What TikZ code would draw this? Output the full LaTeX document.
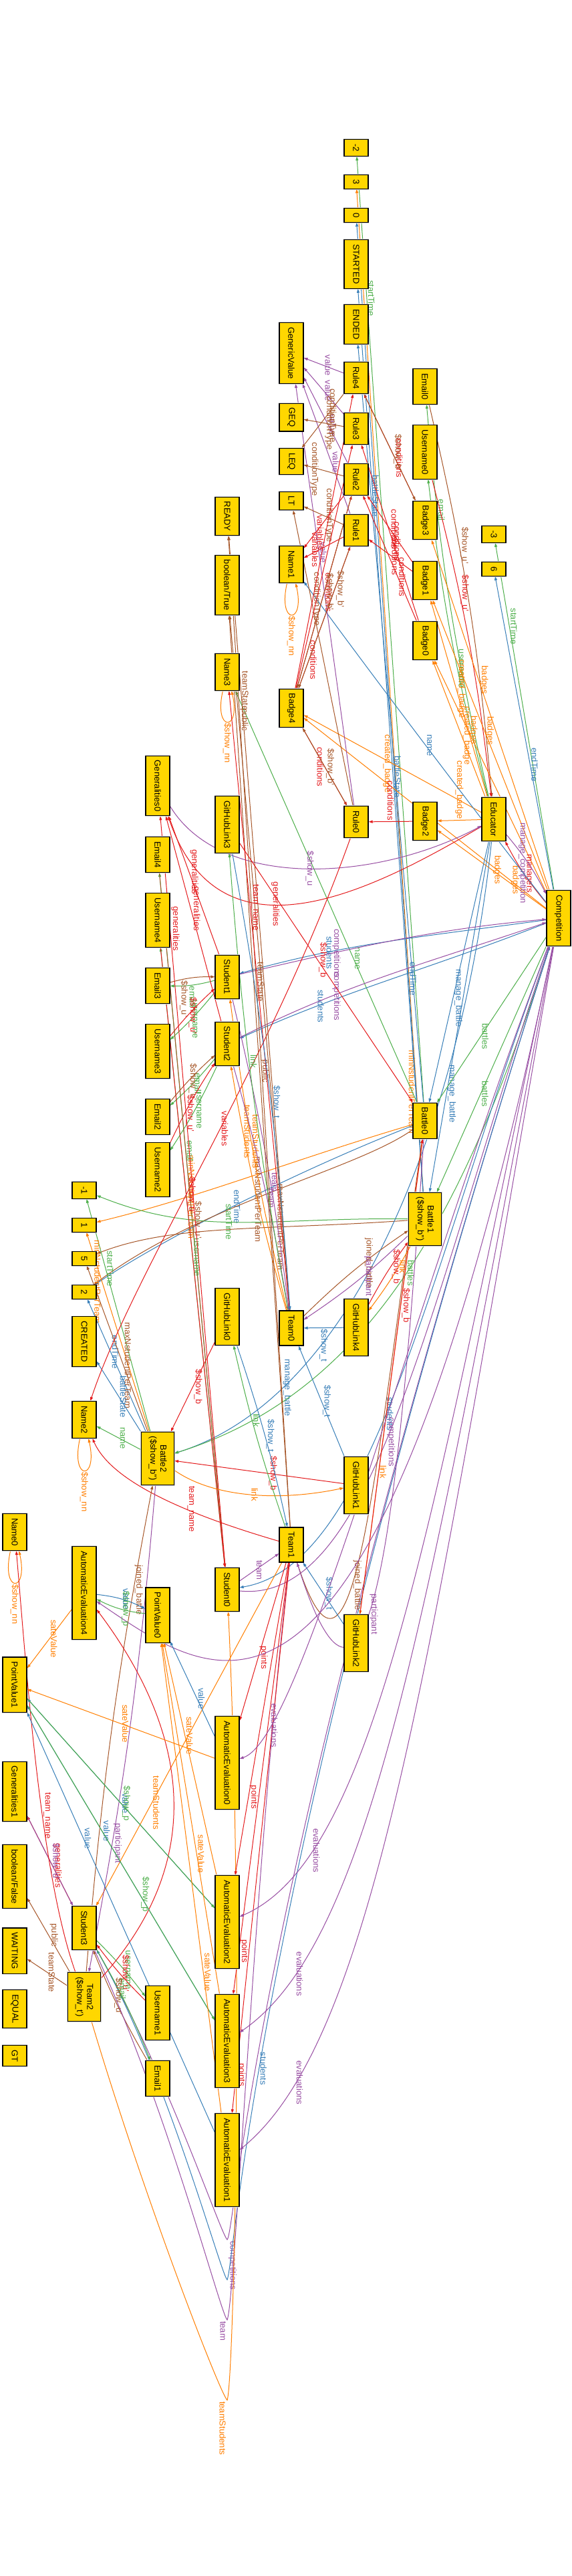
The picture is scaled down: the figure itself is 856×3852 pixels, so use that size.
\documentclass[tikz,border=0pt]{standalone}
\usepackage{fontspec}
\setmainfont{Liberation Sans}
\usetikzlibrary{arrows.meta,backgrounds}
\definecolor{gold}{HTML}{FFD700}
\definecolor{cred}{HTML}{E41A1C}
\definecolor{cblue}{HTML}{377EB8}
\definecolor{cgreen}{HTML}{4DAF4A}
\definecolor{cpurple}{HTML}{984EA3}
\definecolor{corange}{HTML}{FF7F00}
\definecolor{cbrown}{HTML}{A65628}
\begin{document}
\begin{tikzpicture}[x=1pt,y=-1pt]
    \tikzstyle{obj}=[draw=black, line width=1.1pt, fill=gold, rotate=-90, font=\fontsize{13}{15}\selectfont, minimum height=36pt, inner xsep=6.5pt, inner ysep=0pt, preaction={draw=black!18, line width=2.8pt}]
    \tikzstyle{obj2}=[obj, align=center, minimum height=49pt]
    \tikzstyle{rel}=[line width=1pt, -{Triangle[length=6pt,width=4pt]}]
    \tikzstyle{redge}=[rel, cred]
    \tikzstyle{bedge}=[rel, cblue]
    \tikzstyle{gedge}=[rel, cgreen]
    \tikzstyle{pedge}=[rel, cpurple]
    \tikzstyle{oedge}=[rel, corange]
    \tikzstyle{nedge}=[rel, cbrown]
    \tikzstyle{lbl}=[rotate=-90, anchor=south, inner sep=1.5pt, font=\fontsize{13}{15}\selectfont]
    \tikzstyle{lbll}=[lbl, anchor=north]
    \tikzstyle{lblu}=[lbl, anchor=east]
    \tikzstyle{lbld}=[lbl, anchor=west]
    \useasboundingbox (0,0) rectangle (856,3852);

    \node[obj] (neg2) at (533,221) {-2};
    \node[obj] (three) at (533,272) {3};
    \node[obj] (zero) at (533,322) {0};
    \node[obj] (started) at (533,395) {STARTED};
    \node[obj] (ended) at (533,485) {ENDED};
    \node[obj] (genval) at (436,528) {GenericValue};
    \node[obj] (rule4) at (533,565) {Rule4};
    \node[obj] (rule3) at (533,641) {Rule3};
    \node[obj] (rule2) at (533,717) {Rule2};
    \node[obj] (rule1) at (533,793) {Rule1};
    \node[obj] (geq) at (436,624) {GEQ};
    \node[obj] (leq) at (436,690) {LEQ};
    \node[obj] (lt) at (436,749) {LT};
    \node[obj] (email0) at (636,578) {Email0};
    \node[obj] (uname0) at (636,676) {Username0};
    \node[obj] (badge3) at (636,778) {Badge3};
    \node[obj] (badge1) at (636,868) {Badge1};
    \node[obj] (badge0) at (636,958) {Badge0};
    \node[obj] (neg3) at (739,799) {-3};
    \node[obj] (six) at (739,851) {6};
    \node[obj] (ready) at (340,772) {READY};
    \node[obj] (booltrue) at (340,875) {boolean/True};
    \node[obj] (name3) at (340,1005) {Name3};
    \node[obj] (name1) at (436,844) {Name1};
    \node[obj] (badge4) at (436,1059) {Badge4};
    \node[obj] (gen0) at (236,1175) {Generalities0};
    \node[obj] (gh3) at (340,1233) {GitHubLink3};
    \node[obj] (email4) at (236,1278) {Email4};
    \node[obj] (uname4) at (236,1376) {Username4};
    \node[obj] (rule0) at (533,1229) {Rule0};
    \node[obj] (badge2) at (636,1228) {Badge2};
    \node[obj] (educator) at (739,1225) {Educator};
    \node[obj] (comp) at (836,1373) {Competition};
    \node[obj] (student1) at (340,1461) {Student1};
    \node[obj] (email3) at (236,1474) {Email3};
    \node[obj] (uname3) at (236,1572) {Username3};
    \node[obj] (student2) at (340,1561) {Student2};
    \node[obj] (email2) at (236,1670) {Email2};
    \node[obj] (uname2) at (236,1749) {Username2};
    \node[obj] (battle0) at (636,1676) {Battle0};
    \node[obj] (neg1) at (126,1780) {-1};
    \node[obj] (one) at (126,1832) {1};
    \node[obj] (five) at (126,1882) {5};
    \node[obj] (two) at (126,1932) {2};
    \node[obj] (created) at (126,2006) {CREATED};
    \node[obj2] (battle1) at (636,1823) {Battle1\\(\$show\_b'{}')};
    \node[obj] (gh0) at (340,1969) {GitHubLink0};
    \node[obj] (team0) at (436,1986) {Team0};
    \node[obj] (gh4) at (533,1985) {GitHubLink4};
    \node[obj] (name2) at (126,2123) {Name2};
    \node[obj2] (battle2) at (236,2181) {Battle2\\(\$show\_b'{}')};
    \node[obj] (gh1) at (533,2221) {GitHubLink1};
    \node[obj] (name0) at (22,2291) {Name0};
    \node[obj] (ae4) at (126,2382) {AutomaticEvaluation4};
    \node[obj] (team1) at (436,2310) {Team1};
    \node[obj] (student0) at (340,2377) {Student0};
    \node[obj] (pv0) at (236,2415) {PointValue0};
    \node[obj] (gh2) at (533,2457) {GitHubLink2};
    \node[obj] (pv1) at (22,2519) {PointValue1};
    \node[obj] (ae0) at (340,2636) {AutomaticEvaluation0};
    \node[obj] (gen1) at (22,2679) {Generalities1};
    \node[obj] (boolfalse) at (22,2806) {boolean/False};
    \node[obj] (waiting) at (22,2917) {WAITING};
    \node[obj] (student3) at (126,2883) {Student3};
    \node[obj] (ae2) at (340,2874) {AutomaticEvaluation2};
    \node[obj2] (team2) at (126,2986) {Team2\\(\$show\_t')};
    \node[obj] (uname1) at (236,3010) {Username1};
    \node[obj] (equal) at (22,3004) {EQUAL};
    \node[obj] (gt) at (22,3074) {GT};
    \node[obj] (email1) at (236,3108) {Email1};
    \node[obj] (ae3) at (340,3052) {AutomaticEvaluation3};
    \node[obj] (ae1) at (340,3230) {AutomaticEvaluation1};

    \coordinate (loopC) at (340,3349);
    \coordinate (loopS) at (340,3409);
    \coordinate (loopT) at (340,3469);
    \coordinate (loopO) at (340,3589);

    \begin{pgfonlayer}{background}
    \fill[white] (0,0) rectangle (856,3852);

    % battles and their values
    \draw[gedge] (battle0) -- node[lbl,pos=.85]{startTime} (neg2);
    \draw[oedge] (battle1) -- node[lbll,pos=.1]{minNstudentPerTeam} (three);
    \draw[bedge] (battle1) -- node[lbl,pos=.22]{endTime} (zero);
    \draw[bedge] (battle1) -- node[lbl,pos=.46]{battleState} (started);
    \draw[bedge] (battle0) -- node[lbl,pos=.8]{battleState} (ended);
    \draw[oedge] (battle0) .. controls (430,1737) and (300,1790) .. node[lbl,pos=.7]{minNstudentPerTeam} (one);
    \draw[bedge] (battle0) .. controls (439,1753) and (236,1857) .. node[lbl,pos=.5]{endTime} (two);
    \draw[nedge] (battle0) .. controls (532,1750) and (300,1800) .. node[lbl,pos=.55]{maxNstudentPerTeam} (two);
    \draw[gedge] (battle1) .. controls (400,1820) and (300,1850) .. node[lbl,pos=.55]{startTime} (neg1);
    \draw[nedge] (battle1) .. controls (400,1840) and (260,1830) .. node[lbl,pos=.35]{maxNstudentPerTeam} (five);
    \draw[gedge] (battle2) -- node[lbl,pos=.7]{startTime} (neg1);
    \draw[oedge] (battle2) -- node[lbll,pos=.75]{minNstudentPerTeam} (one);
    \draw[bedge] (battle2) -- node[lbl,pos=.6]{endTime} (two);
    \draw[nedge] (battle2) -- node[lbl,pos=.4]{maxNstudentPerTeam} (five);
    \draw[bedge] (battle2) -- node[lbl,pos=.5]{battleState} (created);
    \draw[gedge] (battle2) -- node[lbl,pos=.5]{name} (name2);
    \draw[gedge] (battle0) -- node[lbl,pos=.35]{name} (name3);

    % educator and competition
    \draw[gedge] (educator) to[bend left=4] node[lbl,pos=.75]{email} (email0);
    \draw[nedge] (email0) to[bend left=4] node[lbl,pos=.35]{\$show\_u'} (educator);
    \draw[gedge] (educator) to[bend left=4] node[lbl,pos=.4]{username} (uname0);
    \draw[redge] (uname0) to[bend left=4] node[lbl,pos=.35]{\$show\_u'} (educator);
    \draw[oedge] (educator) -- node[lblu,pos=.5]{created\_badge} (badge2);
    \draw[oedge] (educator) -- node[lbl,pos=.55]{created\_badge} (badge1);
    \draw[oedge] (educator) -- node[lbl,pos=.45]{created\_badge} (badge0);
    \draw[oedge] (educator) -- node[lbll,pos=.5]{created\_badge} (badge4);
    \draw[oedge] (comp) -- node[lbl,pos=.7]{badges} (badge0);
    \draw[oedge] (comp) -- node[lbl,pos=.55]{badges} (badge1);
    \draw[oedge] (comp) -- node[lbl,pos=.5]{badges} (badge2);
    \draw[oedge] (comp) -- node[lbl,pos=.6]{badges} (badge3);
    \draw[oedge] (comp) -- node[lbl,pos=.15]{badges} (badge4);
    \draw[redge] (comp) to[bend left=6] node[lbl,pos=.5]{managers} (educator);
    \draw[pedge] (educator) to[bend left=6] node[lbll,pos=.5]{manage\_competition} (comp);
    \draw[redge] (educator) .. controls (560,1330) and (330,1450) .. node[lbl,pos=.6]{generalities} (gen0);
    \draw[pedge] (gen0) .. controls (330,1330) and (560,1320) .. node[lbl,pos=.5]{\$show\_u} (educator);
    \draw[bedge] (educator) -- node[lbl,pos=.6]{manage\_battle} (battle0);
    \draw[bedge] (educator) -- node[lbl,pos=.72]{manage\_battle} (battle1);
    \draw[bedge] (educator) .. controls (700,1600) and (560,2080) .. node[lbl,pos=.8]{manage\_battle} (battle2);
    \draw[gedge] (comp) -- node[lbl,pos=.6]{battles} (battle0);
    \draw[gedge] (comp) -- node[lbl,pos=.6]{battles} (battle1);
    \draw[gedge] (comp) .. controls (700,1800) and (560,2080) .. node[lbl,pos=.5]{battles} (battle2);
    \draw[gedge] (comp) -- node[lbl,pos=.76]{startTime} (neg3);
    \draw[bedge] (comp) -- node[lbl,pos=.4]{endTime} (six);
    \draw[bedge] (comp) .. controls (700,1200) and (520,960) .. node[lbl,pos=.45]{name} (name1);
    \draw[bedge] (comp) .. controls (640,1400) and (520,1410) .. node[lbl,pos=.72]{students} (student1);
    \draw[bedge] (comp) .. controls (640,1450) and (520,1480) .. node[lbl,pos=.75]{students} (student2);
    \draw[pedge] (student1) .. controls (520,1420) and (640,1390) .. node[lbl,pos=.3]{competitions} (comp);
    \draw[pedge] (student2) .. controls (520,1470) and (640,1440) .. node[lbl,pos=.3]{competitions} (comp);
    \draw[bedge] (comp) .. controls (640,1900) and (560,2340) .. node[lbl,pos=.55]{students} (student0);
    \draw[pedge] (student0) .. controls (560,2400) and (640,1950) .. node[lbl,pos=.45]{competitions} (comp);
    \draw[pedge] (student3) .. controls (250,3100) and (330,3340) .. (loopC) node[lbl,anchor=south west]{competitions} .. controls (352,3340) and (380,2800) .. (comp);
    \draw[bedge] (comp) .. controls (380,2800) and (352,3380) .. node[lbl,pos=.6]{students} (loopS) .. controls (330,3400) and (250,3100) .. (student3);

    % rules and badges
    \draw[pedge] (rule4) -- node[lbl,pos=.5]{value} (genval);
    \draw[pedge] (rule3) -- node[lbl,pos=.5]{value} (genval);
    \draw[pedge] (rule2) -- node[lbl,pos=.45]{value} (genval);
    \draw[pedge] (rule1) -- node[lbl,pos=.4]{value} (genval);
    \draw[pedge] (rule0) -- node[lbl,pos=.6]{value} (genval);
    \draw[nedge] (rule4) -- node[lbl,pos=.4]{conditionType} (leq);
    \draw[nedge] (rule3) -- node[lbl,pos=.5]{conditionType} (geq);
    \draw[nedge] (rule2) -- node[lbll,pos=.6]{conditionType} (leq);
    \draw[nedge] (rule1) -- node[lbl,pos=.5]{conditionType} (lt);
    \draw[nedge] (rule0) -- node[lbl,pos=.7]{conditionType} (lt);
    \draw[redge] (badge3) -- node[lbl,pos=.4]{conditions} (rule4);
    \draw[redge] (badge1) -- node[lbl,pos=.5]{conditions} (rule1);
    \draw[redge] (badge1) -- node[lbl,pos=.5]{conditions} (rule2);
    \draw[redge] (badge0) -- node[lbl,pos=.45]{conditions} (rule3);
    \draw[redge] (badge0) -- node[lbl,pos=.35]{conditions} (rule2);
    \draw[redge] (badge2) -- node[lblu,pos=.5]{conditions} (rule0);
    \draw[redge] (badge4) -- node[lbll,pos=.5]{conditions} (rule0);
    \draw[redge] (badge4) -- node[lbl,pos=.2]{conditions} (rule1);
    \draw[redge] (badge4) -- node[lbl,pos=.5]{conditions} (rule2);
    \draw[redge] (badge4) -- (rule3);
    \draw[redge] (badge4) -- (rule4);
    \draw[nedge] (rule4) -- node[lbl,pos=.55]{\$show\_b'} (badge3);
    \draw[nedge] (rule1) -- node[lbl,pos=.3]{\$show\_b'} (badge4);
    \draw[nedge] (rule2) -- node[lbl,pos=.5]{\$show\_b'} (badge4);
    \draw[nedge] (rule0) -- node[lbl,pos=.5]{\$show\_b'} (badge4);
    \draw[redge] (rule1) -- node[lbll,pos=.6]{variables} (name1);
    \draw[redge] (rule2) -- node[lbl,pos=.7]{variables} (name1);
    \draw[redge] (rule0) .. controls (400,1600) and (200,1900) .. node[lbl,pos=.45]{variables} (name2);
    \draw[oedge] (name1) .. controls (415,935) and (457,935) .. node[lbld,pos=.5]{\$show\_nn} (name1);
    \draw[oedge] (name3) .. controls (319,1095) and (361,1095) .. node[lbld,pos=.5]{\$show\_nn} (name3);
    \draw[oedge] (name2) .. controls (105,2215) and (147,2215) .. node[lbld,pos=.5]{\$show\_nn} (name2);
    \draw[oedge] (name0) .. controls (1,2383) and (43,2383) .. node[lbld,pos=.5]{\$show\_nn} (name0);

    % students
    \draw[gedge] (student1) to[bend left=8] node[lbld,pos=.5]{email} (email3);
    \draw[nedge] (email3) to[bend left=8] node[lbld,pos=.3]{\$show\_u'} (student1);
    \draw[gedge] (student1) to[bend left=4] node[lbl,pos=.55]{username} (uname3);
    \draw[redge] (uname3) to[bend left=4] node[lbl,pos=.4]{\$show\_u'} (student1);
    \draw[gedge] (student2) to[bend left=4] node[lbl,pos=.5]{email} (email2);
    \draw[nedge] (email2) to[bend left=4] node[lbl,pos=.4]{\$show\_u'} (student2);
    \draw[gedge] (student2) to[bend left=4] node[lbl,pos=.5]{username} (uname2);
    \draw[redge] (uname2) to[bend left=4] node[lbl,pos=.35]{\$show\_u'} (student2);
    \draw[gedge] (student0) -- node[lbl,pos=.6]{email} (email4);
    \draw[nedge] (email4) -- node[lbl,pos=.5]{\$show\_u'} (student0);
    \draw[gedge] (student0) -- node[lbl,pos=.5]{username} (uname4);
    \draw[redge] (uname4) -- node[lbl,pos=.4]{\$show\_u'} (student0);
    \draw[gedge] (student3) to[bend left=4] node[lbl,pos=.55]{username} (uname1);
    \draw[redge] (uname1) to[bend left=4] node[lbl,pos=.5]{\$show\_u'} (student3);
    \draw[gedge] (student3) to[bend left=4] node[lbl,pos=.35]{email} (email1);
    \draw[nedge] (email1) to[bend left=4] node[lbl,pos=.6]{\$show\_u'} (student3);
    \draw[redge] (student1) -- node[lbl,pos=.6]{generalities} (gen0);
    \draw[redge] (student2) -- node[lbl,pos=.55]{generalities} (gen0);
    \draw[redge] (student0) -- node[lbl,pos=.85]{generalities} (gen0);
    \draw[redge] (student3) -- node[lbl,pos=.45]{generalities} (gen1);
    \draw[pedge] (gen1) -- node[lbl,pos=.5]{\$show\_u} (student3);

    % teams
    \draw[oedge] (team0) to[bend left=3] node[lbl,pos=.75]{teamStudents} (student2);
    \draw[oedge] (team0) to[bend left=3] node[lbl,pos=.55]{teamStudents} (student1);
    \draw[pedge] (student1) to[bend left=3] node[lbl,pos=.6]{team} (team0);
    \draw[pedge] (student2) to[bend left=3] node[lbl,pos=.55]{team} (team0);
    \draw[oedge] (team1) -- node[lbl,pos=.7]{teamStudents} (student3);
    \draw[pedge] (student0) -- node[lbl,pos=.4]{team} (team1);
    \draw[pedge] (student3) .. controls (250,3150) and (330,3460) .. (loopT) node[lbl,anchor=north west]{team} .. controls (352,3440) and (380,2800) .. (team1);
    \draw[oedge] (team2) .. controls (220,3300) and (330,3580) .. (loopO) node[lbl,anchor=north west]{teamStudents} .. controls (350,3560) and (365,2900) .. (student0);
    \draw[nedge] (team0) -- node[lbl,pos=.8]{teamState} (ready);
    \draw[nedge] (team0) -- node[lbl,pos=.85]{public} (booltrue);
    \draw[nedge] (team1) -- node[lbl,pos=.55]{teamState} (ready);
    \draw[nedge] (team1) -- node[lbl,pos=.5]{public} (booltrue);
    \draw[nedge] (team2) -- node[lbl,pos=.5]{public} (boolfalse);
    \draw[nedge] (team2) -- node[lbl,pos=.5]{teamState} (waiting);
    \draw[redge] (team0) -- node[lbl,pos=.65]{team\_name} (name3);
    \draw[redge] (team1) .. controls (230,2250) and (160,2200) .. node[lbl,pos=.3]{team\_name} (name2);
    \draw[redge] (team2) .. controls (60,2800) and (40,2500) .. node[lbl,pos=.4]{team\_name} (name0);
    \draw[nedge] (team0) to[bend left=5] node[lbl,pos=.6]{joined\_battle} (battle1);
    \draw[pedge] (battle1) to[bend left=5] node[lbl,pos=.45]{participant} (team0);
    \draw[nedge] (team1) .. controls (530,2600) and (560,2200) .. node[lbl,pos=.4]{joined\_battle} (battle0);
    \draw[pedge] (battle0) .. controls (600,2200) and (560,2700) .. node[lbl,pos=.6]{participant} (team1);
    \draw[nedge] (team2) to[bend left=3] node[lbl,pos=.8]{joined\_battle} (battle2);
    \draw[pedge] (battle2) to[bend left=3] node[lbl,pos=.75]{participant} (team2);

    % github links
    \draw[oedge] (battle1) to[bend left=4] node[lbl,pos=.3]{link} (gh4);
    \draw[redge] (gh4) to[bend left=4] node[lbl,pos=.6]{\$show\_b} (battle1);
    \draw[bedge] (gh4) -- node[lbld,pos=.5]{\$show\_t} (team0);
    \draw[oedge] (battle2) .. controls (320,2240) and (420,2245) .. node[lbl,pos=.5]{link} (gh1);
    \draw[redge] (gh1) -- node[lbl,pos=.45]{\$show\_b} (battle2);
    \draw[bedge] (gh1) -- node[lbl,pos=.5]{\$show\_t} (team0);
    \draw[oedge] (battle0) -- node[lbl,pos=.7]{link} (gh2);
    \draw[redge] (gh2) -- node[lbl,pos=.65]{\$show\_b} (battle0);
    \draw[bedge] (gh2) -- node[lbl,pos=.5]{\$show\_t} (team1);
    \draw[gedge] (team1) to[bend left=3] node[lbl,pos=.6]{link} (gh0);
    \draw[bedge] (gh0) to[bend left=3] node[lbl,pos=.5]{\$show\_t} (team1);
    \draw[redge] (gh0) -- node[lbl,pos=.5]{\$show\_b} (battle2);
    \draw[gedge] (team0) to[bend left=3] node[lbl,pos=.55]{link} (gh3);
    \draw[bedge] (gh3) to[bend left=3] node[lbl,pos=.55]{\$show\_t} (team0);
    \draw[redge] (gh3) -- node[lbl,pos=.45]{\$show\_b} (battle0);

    % evaluations and points
    \draw[redge] (team1) -- node[lbl,pos=.6]{points} (ae0);
    \draw[redge] (team1) -- node[lbl,pos=.75]{points} (ae2);
    \draw[redge] (team1) -- node[lbl,pos=.9]{points} (ae3);
    \draw[redge] (team1) -- node[lbl,pos=.93]{points} (ae1);
    \draw[redge] (team2) .. controls (330,2760) and (260,2560) .. (ae4);
    \draw[pedge] (comp) .. controls (600,2000) and (450,2600) .. node[lbl,pos=.85]{evaluations} (ae0);
    \draw[pedge] (comp) .. controls (640,2300) and (560,2780) .. node[lbl,pos=.8]{evaluations} (ae2);
    \draw[pedge] (comp) .. controls (640,2400) and (560,2900) .. node[lbl,pos=.85]{evaluations} (ae3);
    \draw[pedge] (comp) .. controls (640,2500) and (560,3050) .. node[lbl,pos=.85]{evaluations} (ae1);
    \draw[pedge] (comp) .. controls (560,2700) and (330,2520) .. (ae4);
    \draw[bedge] (ae4) to[bend left=10] node[lbl,pos=.5]{value} (pv0);
    \draw[gedge] (pv0) to[bend left=10] node[lbl,pos=.5]{\$show\_p} (ae4);
    \draw[oedge] (ae4) -- node[lbl,pos=.5]{sateValue} (pv1);
    \draw[bedge] (ae0) -- node[lbl,pos=.4]{value} (pv0);
    \draw[oedge] (ae0) -- node[lbl,pos=.5]{sateValue} (pv1);
    \draw[oedge] (ae2) -- node[lbl,pos=.6]{sateValue} (pv0);
    \draw[bedge] (ae2) -- node[lbl,pos=.5]{value} (pv1);
    \draw[gedge] (pv1) -- node[lbl,pos=.5]{\$show\_p} (ae2);
    \draw[oedge] (ae3) -- node[lbl,pos=.4]{sateValue} (pv0);
    \draw[bedge] (ae3) -- node[lbl,pos=.6]{value} (pv1);
    \draw[gedge] (pv1) -- node[lbl,pos=.6]{\$show\_p} (ae3);
    \draw[oedge] (ae1) -- node[lbl,pos=.3]{sateValue} (pv0);
    \draw[bedge] (ae1) -- node[lbl,pos=.7]{value} (pv1);
    \end{pgfonlayer}
\end{tikzpicture}
\end{document}
